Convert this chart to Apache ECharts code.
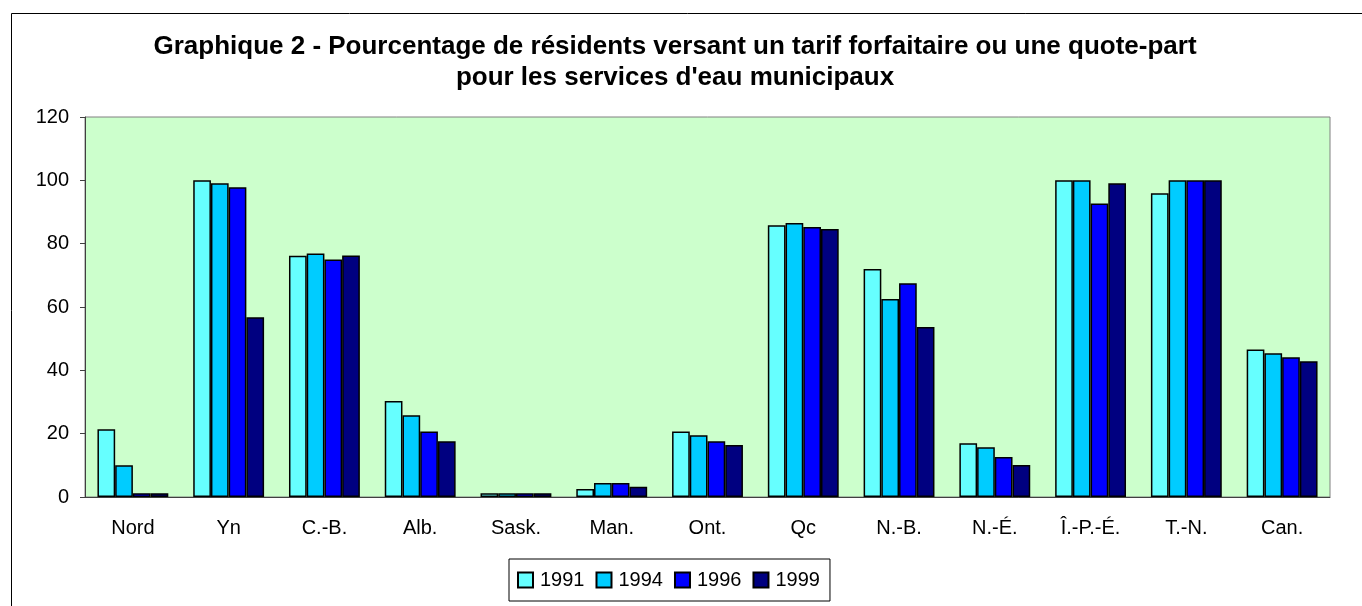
<!DOCTYPE html>
<html>
<head>
<meta charset="utf-8">
<script src="https://cdn.jsdelivr.net/npm/echarts@6/dist/echarts.min.js"></script>
<style>
html,body{margin:0;padding:0;background:#fff;}
#c{width:1362px;height:606px;}
</style>
</head>
<body>
<div id="c"></div>
<script>
const categories = ['Nord','Yn','C.-B.','Alb.','Sask.','Man.','Ont.','Qc','N.-B.','N.-É.','Î.-P.-É.','T.-N.','Can.'];
const seriesNames = ['1991','1994','1996','1999'];
const v1991 = [21.4, 100, 76.2, 30.3, 1.2, 2.5, 20.7, 85.8, 72.0, 17.0, 100, 95.9, 46.6];
const v1994 = [10.0, 99.1, 76.9, 25.8, 1.2, 4.4, 19.5, 86.5, 62.5, 15.7, 100, 100, 45.4];
const v1996 = [1.2, 97.8, 75.0, 20.7, 1.2, 4.4, 17.6, 85.3, 67.5, 12.6, 92.7, 100, 44.1];
const v1999 = [1.2, 56.8, 76.3, 17.6, 1.2, 3.2, 16.4, 84.6, 53.7, 10.1, 99.1, 100, 42.9];
const yTicks = [0, 20, 40, 60, 80, 100, 120];
const titleText = 'Graphique 2 - Pourcentage de résidents versant un tarif forfaitaire ou une quote-part\npour les services d\'eau municipaux';

const colors = ['#66FFFF', '#00CCFF', '#0000FF', '#000080'];
const values = [v1991, v1994, v1996, v1999];
const font = 'Arial, "Liberation Sans", sans-serif';

const chart = echarts.init(document.getElementById('c'), null, {renderer: 'canvas'});
chart.setOption({
  animation: false,
  backgroundColor: '#ffffff',
  graphic: [{
    type: 'rect', left: 9, top: 11, z: -10, silent: true,
    shape: {width: 1400, height: 650},
    style: {fill: 'none', stroke: '#000', lineWidth: 1}
  }],
  title: {
    text: titleText,
    left: 670, top: 26, textAlign: 'center',
    textStyle: {fontFamily: font, fontSize: 26, fontWeight: 'bold', color: '#000', lineHeight: 31}
  },
  grid: {
    left: 85, top: 117, width: 1245, height: 380,
    show: true, backgroundColor: '#CCFFCC', borderColor: '#808080', borderWidth: 1
  },
  legend: {
    left: 509, top: 559,
    data: seriesNames,
    icon: 'rect',
    itemWidth: 15, itemHeight: 15, itemGap: 11,
    padding: [11, 10, 11, 8],
    borderColor: '#000', borderWidth: 1,
    textStyle: {fontFamily: font, fontSize: 20, color: '#000', padding: [0,0,0,2]}
  },
  xAxis: {
    type: 'category', data: categories,
    axisLine: {lineStyle: {color: '#404040', width: 1}},
    axisTick: {show: false},
    axisLabel: {fontFamily: font, fontSize: 20, color: '#000', margin: 21}
  },
  yAxis: {
    type: 'value', min: 0, max: 120, interval: 20,
    axisLine: {show: true, lineStyle: {color: '#404040'}},
    axisTick: {show: true, length: 5, lineStyle: {color: '#404040'}},
    splitLine: {show: false},
    axisLabel: {fontFamily: font, fontSize: 20, color: '#000', margin: 16,
      formatter: function (v) { return yTicks.indexOf(v) >= 0 ? String(v) : ''; }}
  },
  series: seriesNames.map((n, i) => ({
    name: n, type: 'bar', data: values[i],
    barGap: '0%', barCategoryGap: '26%',
    itemStyle: {color: colors[i], borderColor: '#000', borderWidth: 1.5}
  }))
});
</script>
</body>
</html>
